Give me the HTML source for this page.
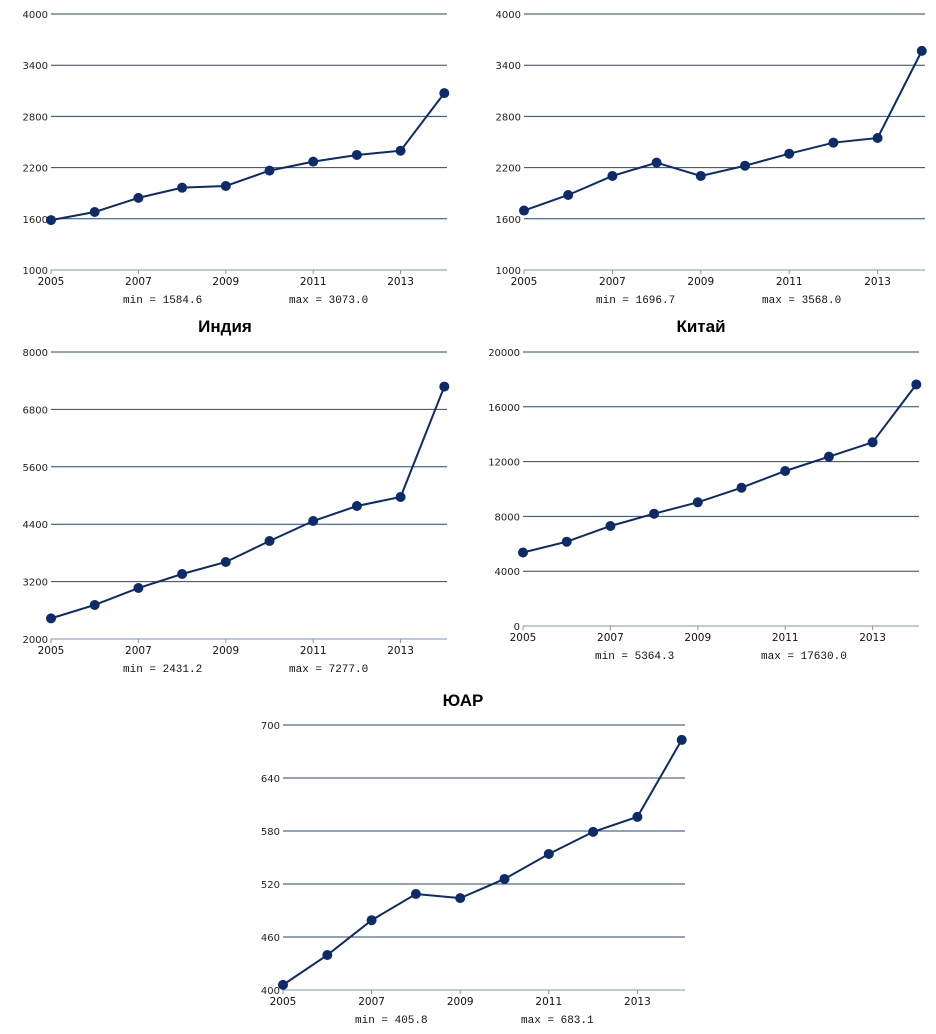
<!DOCTYPE html>
<html><head><meta charset="utf-8">
<style>
html,body{margin:0;padding:0;background:#fff;}
svg{display:block;}
</style></head>
<body>
<svg id="root" width="936" height="1034" viewBox="0 0 936 1034" xmlns="http://www.w3.org/2000/svg">
  <text x="225" y="332" font-family="Liberation Sans, sans-serif" font-weight="bold" font-size="17" text-anchor="middle" fill="#000">Индия</text>
  <text x="701" y="332" font-family="Liberation Sans, sans-serif" font-weight="bold" font-size="17" text-anchor="middle" fill="#000">Китай</text>
  <text x="463" y="706" font-family="Liberation Sans, sans-serif" font-weight="bold" font-size="17" text-anchor="middle" fill="#000">ЮАР</text>
  <rect x="180" y="314" width="100" height="6" fill="#fff"/>
  <rect x="655" y="314" width="100" height="6" fill="#fff"/>
  <rect x="420" y="688" width="90" height="6" fill="#fff"/>
</svg>
<script>
const years = [2005,2006,2007,2008,2009,2010,2011,2012,2013,2014];
const xTickLabels = [2005,2007,2009,2011,2013];
const indiaValues = [1584.6,1680,1845,1965,1985,2165,2270,2348,2398,3073.0];
const chinaValues = [1696.7,1879,2102,2258,2102,2222,2363,2492,2547,3568.0];
const brazilValues = [2431.2,2711,3066,3359,3610,4049,4467,4780,4969,7277.0];
const russiaValues = [5364.3,6153,7300,8197,9029,10095,11314,12360,13409,17630.0];
const rsaValues = [405.8,439.6,479,508.7,504,525.7,554,579,596,683.1];
const indiaTicks = [1000,1600,2200,2800,3400,4000];
const chinaTicks = [1000,1600,2200,2800,3400,4000];
const brazilTicks = [2000,3200,4400,5600,6800,8000];
const russiaTicks = [0,4000,8000,12000,16000,20000];
const rsaTicks = [400,460,520,580,640,700];
const minMaxLabels = [
  ["min = 1584.6","max = 3073.0"],
  ["min = 1696.7","max = 3568.0"],
  ["min = 2431.2","max = 7277.0"],
  ["min = 5364.3","max = 17630.0"],
  ["min = 405.8","max = 683.1"]
];

const NS = "http://www.w3.org/2000/svg";
const root = document.getElementById('root');
function mk(tag, attrs, parent){
  const e = document.createElementNS(NS, tag);
  for (const k in attrs) e.setAttribute(k, attrs[k]);
  (parent||root).appendChild(e);
  return e;
}

function drawChart(name, values, ticks, labels, box){
  const g = mk('g', {});
  
  
  const y0 = ticks[0], y1 = ticks[ticks.length-1];
  const yScale = v => box.bottom - (v - y0) / (y1 - y0) * (box.bottom - box.top);
  const xScale = yr => box.left + (yr - years[0]) * box.step;
  ticks.forEach((t, i) => {
    const y = yScale(t);
    const ln = mk('line', {x1: box.left, x2: box.right, y1: y, y2: y, stroke: i===0 ? '#7f96b2' : '#27476f', 'stroke-width': 1}, g);
    
    
    const tx = mk('text', {x: box.left - 3, y: y + 4, 'text-anchor': 'end', 'font-family': 'DejaVu Sans, sans-serif', 'font-size': 10, fill: '#222'}, g);
    tx.textContent = t;
    
    
  });
  xTickLabels.forEach(yr => {
    const x = xScale(yr);
    const tk = mk('line', {x1: x, x2: x, y1: box.bottom, y2: box.bottom + 4, stroke: '#7f96b2', 'stroke-width': 1}, g);
    
    
    const tx = mk('text', {x: x, y: box.bottom + 15, 'text-anchor': 'middle', 'font-family': 'DejaVu Sans, sans-serif', 'font-size': 10.5, fill: '#111'}, g);
    tx.textContent = yr;
    
    
  });
  const pts = values.map((v, i) => xScale(years[i]) + ',' + yScale(v)).join(' ');
  const pl = mk('polyline', {points: pts, fill: 'none', stroke: '#0d2a6b', 'stroke-width': 2}, g);
  
  
  values.forEach((v, i) => {
    const c = mk('circle', {cx: xScale(years[i]), cy: yScale(v), r: 5, fill: '#0d2a6b'}, g);
    
    
  });
  const mn = mk('text', {x: box.left + 72, y: box.bottom + 33, 'font-family': 'Liberation Mono, monospace', 'font-size': 11, fill: '#111'}, g);
  mn.textContent = labels[0];
  
  
  const mx = mk('text', {x: box.left + 238, y: box.bottom + 33, 'font-family': 'Liberation Mono, monospace', 'font-size': 11, fill: '#111'}, g);
  mx.textContent = labels[1];
  
  
}

drawChart('india', indiaValues, indiaTicks, minMaxLabels[0], {left: 51, right: 447, top: 14, bottom: 270, step: 43.7});
drawChart('china', chinaValues, chinaTicks, minMaxLabels[1], {left: 524, right: 925, top: 14, bottom: 270, step: 44.2});
drawChart('brazil', brazilValues, brazilTicks, minMaxLabels[2], {left: 51, right: 447, top: 352, bottom: 639, step: 43.7});
drawChart('russia', russiaValues, russiaTicks, minMaxLabels[3], {left: 523, right: 919, top: 352, bottom: 626, step: 43.7});
drawChart('south-africa', rsaValues, rsaTicks, minMaxLabels[4], {left: 283, right: 685, top: 725, bottom: 990, step: 44.3});
</script>
</body></html>
